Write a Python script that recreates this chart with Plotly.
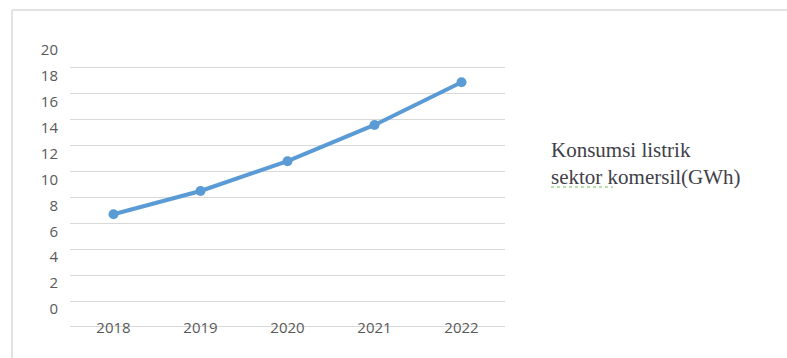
import plotly.graph_objects as go

years = ["2018", "2019", "2020", "2021", "2022"]
konsumsi = [8.7, 10.5, 12.8, 15.6, 18.9]
y_ticks = [0, 2, 4, 6, 8, 10, 12, 14, 16, 18, 20]
series_name = "Konsumsi listrik<br>sektor komersil(GWh)"

fig = go.Figure()
fig.add_trace(go.Scatter(
    x=years, y=konsumsi, mode="lines+markers",
    line=dict(color="#5B9BD5", width=4),
    marker=dict(color="#5B9BD5", size=10),
    name=series_name, showlegend=False,
))

fig.update_layout(
    width=787, height=358,
    margin=dict(l=70, r=282, t=66, b=20, autoexpand=False),
    paper_bgcolor="white", plot_bgcolor="white",
    xaxis=dict(
        type="category", range=[-0.5, 4.5], automargin=False,
        showgrid=False, showline=False, zeroline=False,
        ticks="", ticklabelstandoff=-21,
        tickfont=dict(family="Open Sans", size=15, color="#595959"),
    ),
    yaxis=dict(
        range=[-0.85, 20.15], tickvals=y_ticks, automargin=False,
        showgrid=True, gridcolor="#d9d9d9", gridwidth=1,
        zeroline=True, zerolinecolor="#d9d9d9", zerolinewidth=1,
        showline=False, ticks="",
        ticklabelshift=-18, ticklabelstandoff=11,
        tickfont=dict(family="Open Sans", size=15, color="#595959"),
    ),
    annotations=[dict(
        text=series_name, xref="paper", yref="paper",
        x=(549 - 70) / 435, y=(338 - 163) / 272,
        xanchor="left", yanchor="middle", align="left", showarrow=False,
        font=dict(family="Liberation Serif", size=21, color="#404048"),
    )],
    shapes=[
        dict(type="line", xref="paper", yref="paper",
             x0=-0.1333, x1=1.7, y0=(338 - 10) / 272, y1=(338 - 10) / 272,
             line=dict(color="#d9d9d9", width=1.5)),
        dict(type="line", xref="paper", yref="paper",
             x0=-0.1333, x1=-0.1333, y0=(338 - 10) / 272, y1=-0.1,
             line=dict(color="#d9d9d9", width=1.5)),
        dict(type="line", xref="paper", yref="paper",
             x0=(551 - 70) / 435, x1=(613 - 70) / 435,
             y0=(338 - 187) / 272, y1=(338 - 187) / 272,
             line=dict(color="#70c050", width=1, dash="dot")),
    ],
)

fig.write_html("out.html")
